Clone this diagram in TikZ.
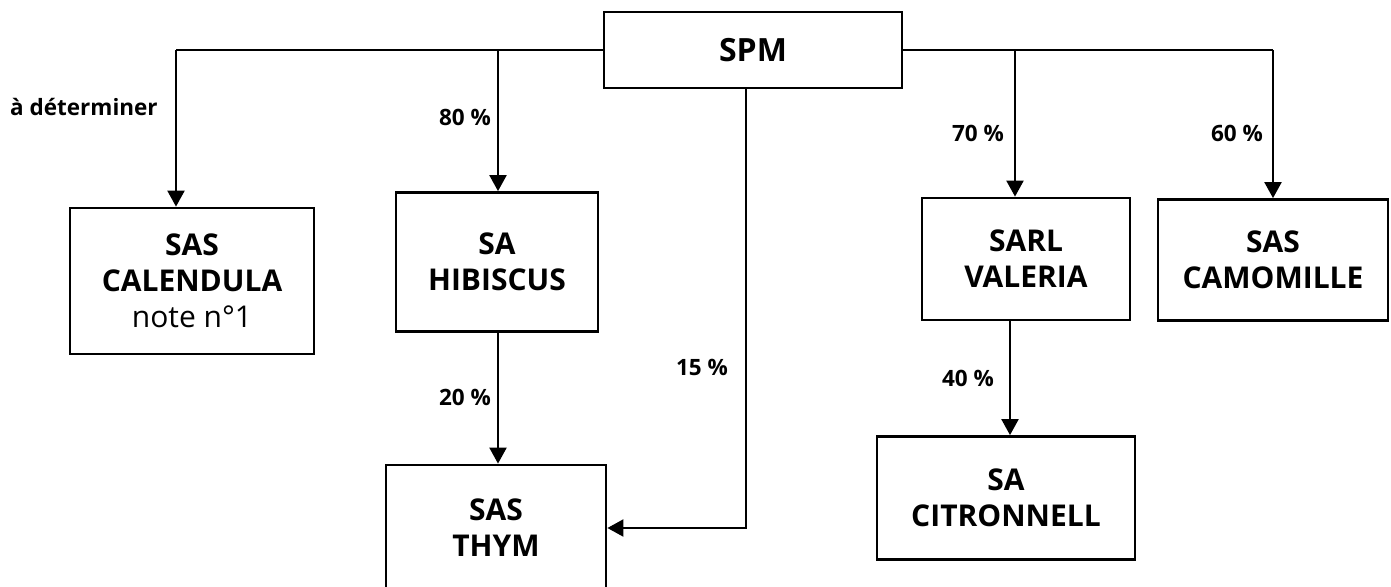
\documentclass[tikz,border=0pt]{standalone}
\usepackage{fontspec}
\setmainfont{Open Sans}
\usetikzlibrary{arrows.meta,calc}
\tikzset{entbox/.style={draw, line width=2.8pt, align=center, inner sep=0pt, font=\fontsize{30}{36}\selectfont\bfseries},
  partarrow/.style={line width=2.2pt, -{Triangle[width=17pt,length=16pt]}},
  pctlabel/.style={font=\fontsize{22.5}{26}\selectfont\bfseries, inner sep=0pt}}

\begin{document}
\begin{tikzpicture}[x=1pt, y=-1pt]
\useasboundingbox (0,0) rectangle (1391,586);
% boxes
\node[entbox, minimum width=298pt, minimum height=76pt, font=\fontsize{32}{36}\selectfont\bfseries] (spm) at (753,50) {SPM};
\node[entbox, minimum width=244pt, minimum height=146pt] (cal) at (192,281) {SAS\\CALENDULA\\\mdseries note n°1};
\node[entbox, minimum width=202pt, minimum height=139pt] (hib) at (497,262) {SA\\HIBISCUS};
\node[entbox, minimum width=220pt, minimum height=126pt] (thym) at (496,528) {SAS\\THYM};
\node[entbox, minimum width=208pt, minimum height=122pt] (val) at (1026,259) {SARL\\VALERIA};
\node[entbox, minimum width=230pt, minimum height=121pt] (cam) at (1273,260) {SAS\\CAMOMILLE};
\node[entbox, minimum width=258pt, minimum height=123pt] (cit) at (1006,498) {SA\\CITRONNELL};
% bus ends and taps
\coordinate (busl) at (176,50);
\coordinate (busr) at (1273,50);
\coordinate (hibtap) at (498,50);
\coordinate (valtap) at (1015,50);
\coordinate (thymtap) at (746,88);
\coordinate (cittap) at (1010,0);
% connectors
\draw[line width=2.2pt] (spm.west) -- (busl);
\draw[line width=2.2pt] (spm.east) -- (busr);
\draw[partarrow] (busl) -- (busl |- cal.north);
\draw[partarrow] (hibtap) -- (hibtap |- hib.north);
\draw[partarrow] (valtap) -- (valtap |- val.north);
\draw[partarrow] (busr) -- (cam.north);
\draw[partarrow] (hibtap |- hib.south) -- (hibtap |- thym.north);
\draw[partarrow] (thymtap) |- (thym.east);
\draw[partarrow] (cittap |- val.south) -- (cittap |- cit.north);
% labels
\node[pctlabel, anchor=west] (ldet) at (10,107) {à déterminer};
\node[pctlabel] (l80) at (465,117) {80 \%};
\node[pctlabel] (l20) at (465,397) {20 \%};
\node[pctlabel] (l15) at (702,367) {15 \%};
\node[pctlabel] (l70) at (978,133) {70 \%};
\node[pctlabel] (l60) at (1237,133) {60 \%};
\node[pctlabel] (l40) at (968,378) {40 \%};
\end{tikzpicture}
\end{document}
